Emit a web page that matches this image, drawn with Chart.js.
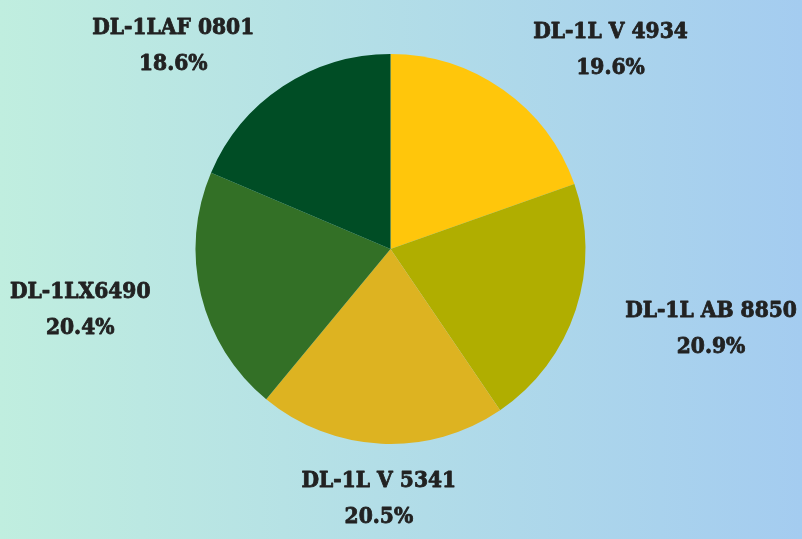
<!DOCTYPE html>
<html>
<head>
<meta charset="utf-8">
<script src="https://cdn.jsdelivr.net/npm/chart.js@4.4.1/dist/chart.umd.min.js"></script>
<style>
  html, body { margin: 0; padding: 0; }
  body { width: 802px; height: 539px; background: linear-gradient(to right, #c0eedf, #a4ccf0); }
  #wrap { width: 802px; height: 539px; }
</style>
</head>
<body>
<div id="wrap"><canvas id="myChart"></canvas></div>
<script>
// data
const labels = ["DL-1L V 4934", "DL-1L AB 8850", "DL-1L V 5341", "DL-1LX6490", "DL-1LAF 0801"];
const shares = [19.6, 20.9, 20.5, 20.4, 18.6];
const colors = ["#ffc60b", "#b0ae00", "#ddb321", "#337026", "#004d25"];

const FONT = "bold 22.5px 'DejaVu Serif Condensed', 'DejaVu Serif'";

// draws the two-line labels outside each slice
const outsideLabels = {
  id: 'outsideLabels',
  afterDatasetsDraw(chart) {
    const ctx = chart.ctx;
    const meta = chart.getDatasetMeta(0);
    ctx.save();
    ctx.font = FONT;
    ctx.fillStyle = '#222222';
    ctx.strokeStyle = '#222222';
    ctx.lineWidth = 0.8;
    ctx.lineJoin = 'round';
    ctx.textAlign = 'center';
    ctx.textBaseline = 'middle';
    meta.data.forEach(function (arc, i) {
      const p = arc.getProps(['x', 'y', 'startAngle', 'endAngle', 'outerRadius'], true);
      const mid = (p.startAngle + p.endAngle) / 2;
      const ux = Math.cos(mid), uy = Math.sin(mid);
      const line1 = labels[i];
      const line2 = shares[i].toFixed(1) + '%';
      const w = Math.max(ctx.measureText(line1).width, ctx.measureText(line2).width);
      const d = p.outerRadius + 52;
      let side = 0;
      if (ux > 0.2) side = 1;
      if (ux < -0.2) side = -1;
      const x = p.x + ux * d + side * w / 2;
      const y = p.y + uy * d + 3;
      ctx.fillText(line1, x, y - 18);
      ctx.strokeText(line1, x, y - 18);
      ctx.fillText(line2, x, y + 18);
      ctx.strokeText(line2, x, y + 18);
    });
    ctx.restore();
  }
};

var ctx = document.getElementById("myChart").getContext('2d');
var myChart = new Chart(ctx, {
  type: 'pie',
  data: {
    labels: labels,
    datasets: [{
      data: shares,
      backgroundColor: colors,
      borderWidth: 0
    }]
  },
  options: {
    responsive: true,
    maintainAspectRatio: false,
    animation: false,
    layout: { padding: { top: 54, bottom: 95, left: 195, right: 216 } },
    plugins: {
      legend: { display: false },
      tooltip: { enabled: false }
    }
  },
  plugins: [outsideLabels]
});
</script>
</body>
</html>
